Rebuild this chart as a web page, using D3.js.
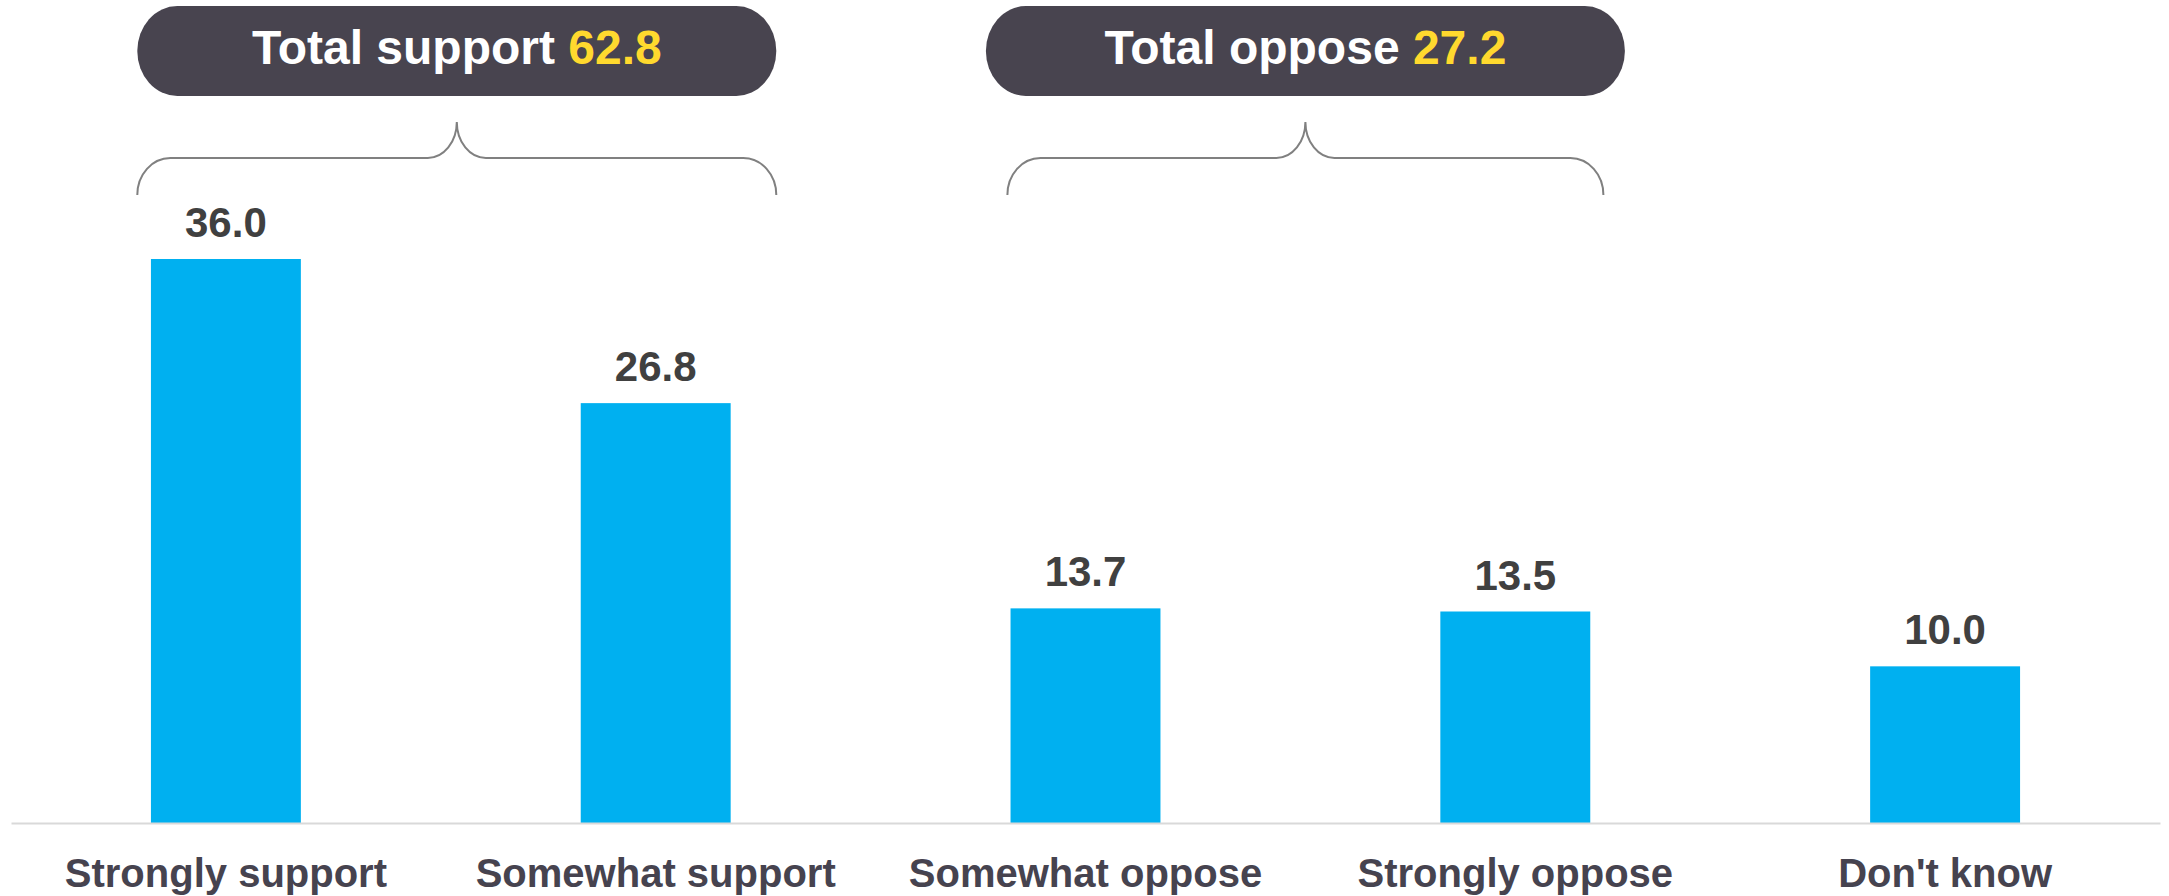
<!DOCTYPE html>
<html>
<head>
<meta charset="utf-8">
<script src="https://cdn.jsdelivr.net/npm/d3@7"></script>
<style>
  html, body { margin: 0; padding: 0; background: #fff; }
  svg { display: block; font-family: "Liberation Sans", Arial, sans-serif; }
</style>
</head>
<body>
<div id="chart"></div>
<script>
"use strict"

// Data
const categories = ["Strongly support", "Somewhat support", "Somewhat oppose", "Strongly oppose", "Don't know"];
const values = [36.0, 26.8, 13.7, 13.5, 10.0];
const groupLabels = ["Total support", "Total oppose"];
const groupTotals = [62.8, 27.2];
const groupMembers = [[0, 1], [2, 3]];

// Layout
const W = 2169, H = 896;
const axisY = 823;
const barW = 150;
const pillW = 639, pillH = 90, pillY = 6;
const braceW = [639, 596];
const groupDx = [16, 5];
const braceEndY = 195, braceMidY = 158, braceTipY = 122;

let svg = (
  d3.select('#chart')
    .append('svg')
    .attr('width', W)
    .attr('height', H));

let x = (
  d3.scaleBand()
    .domain(categories)
    .range([11, 2160])
    .paddingInner(1 - barW / 430)
    .paddingOuter((1 - barW / 430) / 2));

let y = (
  d3.scaleLinear()
    .domain([0, 36])
    .range([axisY, 259]));

// Bars
(svg
  .selectAll('rect.bar')
    .data(values)
  .enter()
    .append('rect')
      .attr('class', 'bar')
      .attr('x', (d, i) => x(categories[i]))
      .attr('y', (d) => y(d))
      .attr('width', x.bandwidth())
      .attr('height', (d) => y(0) - y(d))
      .attr('fill', '#00B0F0')
);

// Value labels
(svg
  .selectAll('text.value')
    .data(values)
  .enter()
    .append('text')
      .attr('class', 'value')
      .attr('x', (d, i) => x(categories[i]) + x.bandwidth() / 2)
      .attr('y', (d) => y(d) - 22)
      .attr('text-anchor', 'middle')
      .attr('style', 'font-size: 42px; font-weight: bold; fill: #404040')
      .text((d) => d.toFixed(1))
);

// Category axis
let axis = (
  svg.append('g')
    .attr('transform', `translate(0,${axisY})`)
    .call(d3.axisBottom(x).tickSize(0).tickPadding(36)));

axis.select('.domain')
  .attr('stroke', '#D9D9D9')
  .attr('stroke-width', 2);

axis.selectAll('text')
  .attr('style', 'font-size: 40px; font-weight: bold; fill: #46434F; font-family: "Liberation Sans", Arial, sans-serif');

// Group pills and braces
let groupCenter = (g, i) => {
  let a = x(categories[g[0]]);
  let b = x(categories[g[g.length - 1]]) + x.bandwidth();
  return (a + b) / 2 + groupDx[i];
};

let groups = (
  svg.selectAll('g.group')
    .data(groupMembers)
  .enter()
    .append('g')
      .attr('class', 'group'));

groups.append('rect')
  .attr('x', (d, i) => groupCenter(d, i) - pillW / 2)
  .attr('y', pillY)
  .attr('width', pillW)
  .attr('height', pillH)
  .attr('rx', 40)
  .attr('ry', pillH / 2)
  .attr('fill', '#48444F');

let label = (
  groups.append('text')
    .attr('x', (d, i) => groupCenter(d, i))
    .attr('y', 64)
    .attr('text-anchor', 'middle')
    .attr('style', 'font-size: 48px; font-weight: bold'));

label.append('tspan')
  .attr('fill', '#FFFFFF')
  .text((d, i) => groupLabels[i] + ' ');

label.append('tspan')
  .attr('fill', '#FFD92E')
  .text((d, i) => groupTotals[i].toFixed(1));

groups.append('path')
  .attr('fill', 'none')
  .attr('stroke', '#808080')
  .attr('stroke-width', 2)
  .attr('d', (d, i) => {
    let c = groupCenter(d, i);
    let x0 = c - braceW[i] / 2, x1 = c + braceW[i] / 2;
    let rx = 33, ry = braceEndY - braceMidY;
    let tx = 29, ty = braceMidY - braceTipY;
    return `M${x0},${braceEndY}` +
      `A${rx},${ry} 0 0 1 ${x0 + rx},${braceMidY}` +
      `L${c - tx},${braceMidY}` +
      `A${tx},${ty} 0 0 0 ${c},${braceTipY}` +
      `A${tx},${ty} 0 0 0 ${c + tx},${braceMidY}` +
      `L${x1 - rx},${braceMidY}` +
      `A${rx},${ry} 0 0 1 ${x1},${braceEndY}`;
  });
</script>
</body>
</html>
